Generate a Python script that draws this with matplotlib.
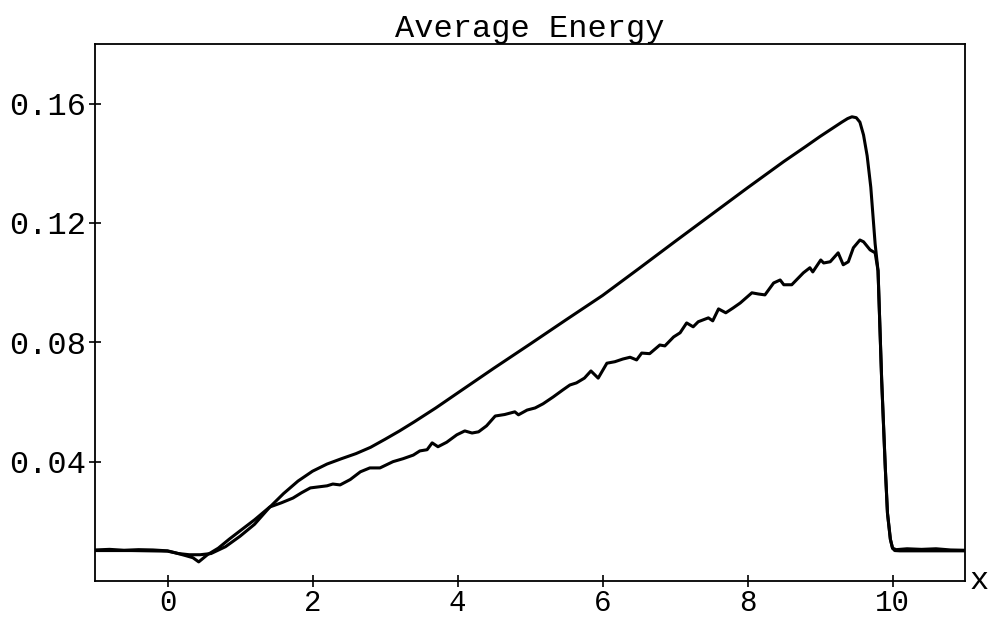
import numpy as np
import matplotlib
matplotlib.use('Agg')
import matplotlib.pyplot as plt

plt.rcParams['font.family'] = ['Liberation Mono', 'DejaVu Sans Mono']

# smooth curve
x_smooth = [-1.0, -0.5, 0.0, 0.15, 0.3, 0.45, 0.6, 0.8, 1.0, 1.2, 1.4, 1.6, 1.8, 2.0,
            2.2, 2.4, 2.6, 2.8, 3.0, 3.2, 3.4, 3.7, 4.0, 4.5, 5.0, 5.5, 6.0, 6.5,
            7.0, 7.5, 8.0, 8.5, 8.8, 9.0, 9.2, 9.3, 9.38, 9.44, 9.5, 9.55, 9.6, 9.65,
            9.7, 9.76, 9.8, 9.85, 9.9, 9.93, 9.97, 10.0, 10.03, 10.1, 10.5, 11.0]
y_smooth = [0.0102, 0.0102, 0.0100, 0.0092, 0.0088, 0.0088, 0.0092, 0.0115, 0.0150,
            0.0190, 0.0245, 0.0293, 0.0335, 0.0368, 0.0392, 0.0410, 0.0427, 0.0448,
            0.0475, 0.0503, 0.0533, 0.0580, 0.0630, 0.0713, 0.0794, 0.0876, 0.0957,
            0.1047, 0.1138, 0.1228, 0.1318, 0.1406, 0.1456, 0.1490, 0.1522, 0.1538,
            0.1550, 0.1556, 0.1553, 0.1538, 0.1495, 0.1425, 0.1320, 0.1130, 0.1040,
            0.0674, 0.0380, 0.0228, 0.0140, 0.0110, 0.0102, 0.0101, 0.0101, 0.0101]

# noisy curve
x_noisy = [-1.0, -0.8, -0.6, -0.4, -0.2, 0.0, 0.1, 0.25, 0.35, 0.43, 0.55, 0.7, 0.85,
           1.0, 1.2, 1.41, 1.57, 1.73, 1.85, 1.97, 2.2, 2.28, 2.38, 2.52, 2.66, 2.79,
           2.93, 3.11, 3.25, 3.39, 3.48, 3.58, 3.65, 3.73, 3.85, 3.99, 4.10, 4.2,
           4.29, 4.4, 4.52, 4.65, 4.79, 4.84, 4.96, 5.07, 5.18, 5.32, 5.45, 5.55,
           5.64, 5.75, 5.84, 5.94, 6.06, 6.17, 6.28, 6.38, 6.47, 6.54, 6.65, 6.79,
           6.86, 6.98, 7.07, 7.16, 7.25, 7.32, 7.46, 7.52, 7.6, 7.7, 7.8, 7.9, 8.06,
           8.15, 8.24, 8.36, 8.45, 8.5, 8.61, 8.77, 8.86, 8.9, 9.01, 9.05, 9.14, 9.25,
           9.32, 9.39, 9.46, 9.55, 9.6, 9.69, 9.76, 9.8, 9.85, 9.9, 9.93, 9.97, 10.0,
           10.05, 10.2, 10.4, 10.6, 10.8, 11.0]
y_noisy = [0.0104, 0.0106, 0.0103, 0.0105, 0.0104, 0.0101, 0.0095, 0.0085, 0.0078,
           0.0064, 0.0088, 0.0110, 0.0140, 0.0168, 0.0205, 0.0248, 0.0262, 0.0278,
           0.0296, 0.0312, 0.0319, 0.0325, 0.0322, 0.0340, 0.0366, 0.0379, 0.0379,
           0.0400, 0.0410, 0.0422, 0.0436, 0.0440, 0.0463, 0.0450, 0.0465, 0.0490,
           0.0503, 0.0496, 0.0500, 0.0520, 0.0553, 0.0558, 0.0567, 0.0557, 0.0573,
           0.0580, 0.0594, 0.0617, 0.0640, 0.0657, 0.0664, 0.0680, 0.0704, 0.0680,
           0.0730, 0.0735, 0.0744, 0.0750, 0.0741, 0.0764, 0.0762, 0.0791, 0.0788,
           0.0818, 0.0832, 0.0865, 0.0852, 0.0869, 0.0882, 0.0872, 0.0912, 0.0899,
           0.0915, 0.0932, 0.0966, 0.0962, 0.0959, 0.0999, 0.1009, 0.0993, 0.0993,
           0.1033, 0.1050, 0.1036, 0.1076, 0.1066, 0.1070, 0.1100, 0.1060, 0.1070,
           0.1117, 0.1143, 0.1137, 0.1110, 0.1100, 0.1040, 0.0674, 0.0380, 0.0228,
           0.0140, 0.0110, 0.0105, 0.0108, 0.0106, 0.0108, 0.0104, 0.0103]

fig = plt.figure(figsize=(9.91, 6.18), dpi=100)
ax = fig.add_axes([0.0959, 0.0599, 0.8779, 0.8689])

ax.plot(x_smooth, y_smooth, color='black', lw=2.2)
ax.plot(x_noisy, y_noisy, color='black', lw=2.2)

ax.set_xlim(-1, 11)
ax.set_ylim(0, 0.18)
ax.set_xticks([0, 2, 4, 6, 8, 10])
ax.set_yticks([0.04, 0.08, 0.12, 0.16])
ax.set_yticklabels(['0.04', '0.08', '0.12', '0.16'])
ax.tick_params(direction='inout', length=9, width=1.2, labelsize=23, pad=2,
               top=False, right=False)
ax.tick_params(axis='x', labelsize=21, pad=1)
for s in ax.spines.values():
    s.set_linewidth(1.3)

ax.set_title('Average Energy', fontsize=23, pad=2)
ax.text(1.005, 0.0, 'x', transform=ax.transAxes, fontsize=23, ha='left', va='center')

fig.savefig('out.png', dpi=100)
